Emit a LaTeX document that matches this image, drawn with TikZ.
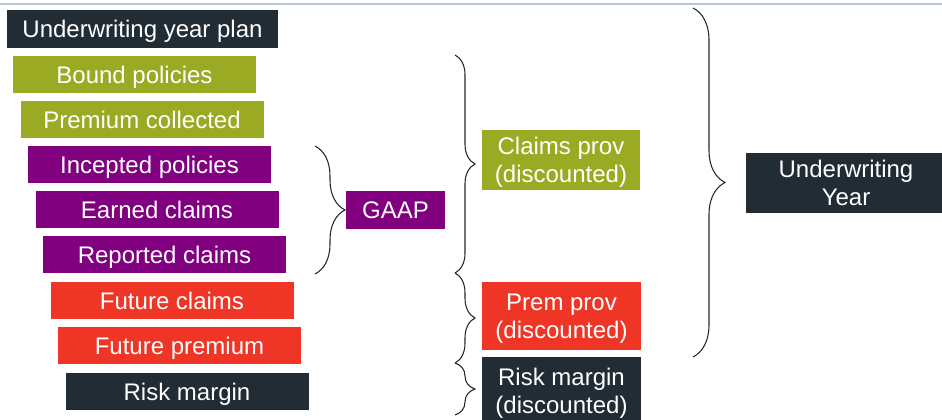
\documentclass[tikz,border=0pt]{standalone}
\usepackage{fontspec}
\setmainfont{Liberation Sans}
\usetikzlibrary{decorations.pathreplacing,positioning}
\definecolor{uwdark}{HTML}{212C35}
\definecolor{uwolive}{HTML}{9BAA23}
\definecolor{uwpurple}{HTML}{800080}
\definecolor{uwred}{HTML}{EE3526}
\definecolor{uwrule}{HTML}{B6C6D6}
\tikzset{block/.style={rectangle,fill=#1,text=white,inner sep=0pt,minimum width=182.25pt,minimum height=27.75pt,text depth=0pt,font=\fontsize{18}{21}\selectfont,align=center},curly/.style={decorate,decoration={brace,amplitude=#1},line width=.8pt,black!85}}
\begin{document}
\begin{tikzpicture}[x=0.75pt,y=-0.75pt]
\clip (0,0) rectangle (942,420);
\draw[uwrule,line width=1.5pt] (0,4)--(942,4);
% left column
\node[block=uwdark,minimum width=203.25pt,minimum height=28.5pt] (plan) at (142.5,29) {Underwriting year plan};
\node[block=uwolive] (bound) at (134.5,74.5) {Bound policies};
\node[block=uwolive] (collected) at (142,119.5) {Premium collected};
\node[block=uwpurple] (incepted) at (149.5,165) {Incepted policies};
\node[block=uwpurple] (earned) at (157,210) {Earned claims};
\node[block=uwpurple] (reported) at (164.5,255) {Reported claims};
\node[block=uwred] (futclaims) at (172,300.5) {Future claims};
\node[block=uwred] (futprem) at (179.5,345.5) {Future premium};
\node[block=uwdark] (risk) at (187,391.5) {Risk margin};
% middle and right
\node[block=uwpurple,minimum width=74.25pt,minimum height=28.5pt] (gaap) at (395.5,210) {GAAP};
\node[block=uwolive,minimum width=118.5pt,minimum height=45pt] (claimsprov) at (561,160) {Claims prov\\(discounted)};
\node[block=uwred,minimum width=119.25pt,minimum height=51pt] (premprov) at (561.5,316) {Prem prov\\(discounted)};
\node[block=uwdark,minimum width=119.25pt,minimum height=51pt] (riskprov) at (561.5,391) {Risk margin\\(discounted)};
\node[block=uwdark,minimum width=150pt,minimum height=45pt] (uwyear) at (846,183) {Underwriting\\Year};
% braces
\coordinate (gaapA) at (315,146);
\coordinate (gaapB) at (315,274);
\coordinate (midA) at (455,55);
\coordinate (midB) at (455,273);
\coordinate (midC) at (455,363);
\coordinate (midD) at (455,415);
\coordinate (yearA) at (693,8);
\coordinate (yearB) at (693,357);
\draw[curly=22.5pt] (gaapA)--(gaapB);
\draw[curly=15pt] (midA)--(midB);
\draw[curly=15pt] (midB)--(midC);
\draw[curly=15pt] (midC)--(midD);
\draw[curly=24pt] (yearA)--(yearB);
\end{tikzpicture}
\end{document}
